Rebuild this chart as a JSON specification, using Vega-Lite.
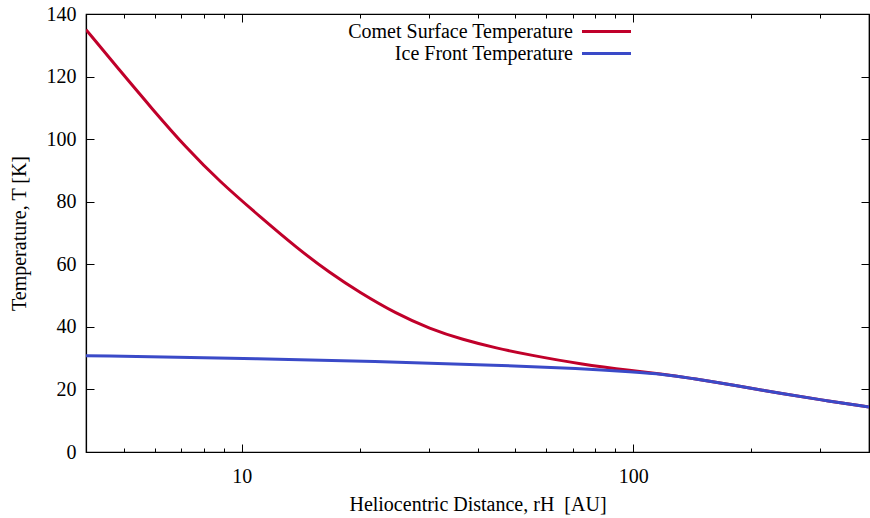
{
  "$schema": "https://vega.github.io/schema/vega-lite/v6.json",
  "width": 783,
  "height": 438,
  "autosize": {"type": "none"},
  "padding": {"left": 86, "top": 14, "right": 1, "bottom": 66},
  "background": "white",
  "config": {
    "font": "Liberation Serif",
    "view": {"stroke": "black", "strokeWidth": 1.2},
    "axis": {
      "grid": false,
      "domainColor": "black",
      "domainWidth": 1.2,
      "tickColor": "black",
      "tickWidth": 1,
      "labelFont": "Liberation Serif",
      "labelFontSize": 20,
      "labelColor": "black",
      "titleFont": "Liberation Serif",
      "titleFontSize": 20,
      "titleFontWeight": "normal",
      "titleColor": "black"
    }
  },
  "data": {
    "values": [
      {"series": "Comet Surface Temperature", "r": 4, "T": 135.0},
      {"series": "Comet Surface Temperature", "r": 4.86, "T": 122.2},
      {"series": "Comet Surface Temperature", "r": 5.91, "T": 109.6},
      {"series": "Comet Surface Temperature", "r": 7.19, "T": 97.4},
      {"series": "Comet Surface Temperature", "r": 8.75, "T": 86.6},
      {"series": "Comet Surface Temperature", "r": 11.3, "T": 74.5},
      {"series": "Comet Surface Temperature", "r": 13.8, "T": 65.3},
      {"series": "Comet Surface Temperature", "r": 16.8, "T": 57.2},
      {"series": "Comet Surface Temperature", "r": 20.0, "T": 51.0},
      {"series": "Comet Surface Temperature", "r": 24.8, "T": 44.2},
      {"series": "Comet Surface Temperature", "r": 30.2, "T": 39.4},
      {"series": "Comet Surface Temperature", "r": 36.7, "T": 35.9},
      {"series": "Comet Surface Temperature", "r": 44.7, "T": 33.2},
      {"series": "Comet Surface Temperature", "r": 54.4, "T": 31.0},
      {"series": "Comet Surface Temperature", "r": 73.1, "T": 28.1},
      {"series": "Comet Surface Temperature", "r": 100, "T": 25.9},
      {"series": "Comet Surface Temperature", "r": 119, "T": 24.9},
      {"series": "Comet Surface Temperature", "r": 140, "T": 23.6},
      {"series": "Comet Surface Temperature", "r": 160, "T": 22.4},
      {"series": "Comet Surface Temperature", "r": 200, "T": 20.4},
      {"series": "Comet Surface Temperature", "r": 237, "T": 18.8},
      {"series": "Comet Surface Temperature", "r": 300, "T": 16.7},
      {"series": "Comet Surface Temperature", "r": 400, "T": 14.4},
      {"series": "Ice Front Temperature", "r": 4, "T": 30.8},
      {"series": "Ice Front Temperature", "r": 9.31, "T": 30.0},
      {"series": "Ice Front Temperature", "r": 22.5, "T": 29.0},
      {"series": "Ice Front Temperature", "r": 45.6, "T": 27.7},
      {"series": "Ice Front Temperature", "r": 73.1, "T": 26.7},
      {"series": "Ice Front Temperature", "r": 100, "T": 25.6},
      {"series": "Ice Front Temperature", "r": 119, "T": 24.9},
      {"series": "Ice Front Temperature", "r": 140, "T": 23.6},
      {"series": "Ice Front Temperature", "r": 160, "T": 22.4},
      {"series": "Ice Front Temperature", "r": 200, "T": 20.4},
      {"series": "Ice Front Temperature", "r": 237, "T": 18.8},
      {"series": "Ice Front Temperature", "r": 300, "T": 16.7},
      {"series": "Ice Front Temperature", "r": 400, "T": 14.4}
    ]
  },
  "layer": [
    {
      "mark": {"type": "line", "strokeWidth": 3, "interpolate": "basis", "clip": true},
      "encoding": {
        "x": {
          "field": "r", "type": "quantitative",
          "scale": {"type": "log", "domain": [4, 400], "nice": false},
          "axis": {
            "orient": "bottom",
            "title": "Heliocentric Distance, rH\u00a0 [AU]",
            "titlePadding": 4,
            "values": [5, 6, 7, 8, 9, 10, 20, 30, 40, 50, 60, 70, 80, 90, 100, 200, 300],
            "labelExpr": "(datum.value == 10 || datum.value == 100) ? format(datum.value, 'd') : ''",
            "tickSize": {"condition": {"test": "datum.value == 10 || datum.value == 100", "value": -8}, "value": -4},
            "labelPadding": 22,
            "labelFlush": false,
            "labelOverlap": false
          }
        },
        "y": {
          "field": "T", "type": "quantitative",
          "scale": {"domain": [0, 140], "nice": false, "zero": true},
          "axis": {
            "orient": "left",
            "title": "Temperature, T [K]",
            "values": [0, 20, 40, 60, 80, 100, 120, 140],
            "tickSize": -8,
            "labelPadding": 18,
            "titlePadding": 17,
            "labelFlush": false
          }
        },
        "color": {
          "field": "series", "type": "nominal",
          "scale": {"domain": ["Comet Surface Temperature", "Ice Front Temperature"], "range": ["#c0002a", "#3a4ac8"]},
          "legend": {
            "orient": "none",
            "legendX": 509,
            "legendY": 6,
            "title": null,
            "symbolType": "M-2.5,0H2.5",
            "symbolSize": 384,
            "symbolStrokeWidth": 3,
            "labelAlign": "right",
            "labelOffset": -45,
            "labelFont": "Liberation Serif",
            "labelFontSize": 20,
            "labelColor": "black",
            "labelLimit": 0,
            "rowPadding": 0
          }
        }
      }
    },
    {
      "mark": {"type": "point", "opacity": 0},
      "encoding": {
        "x": {
          "field": "r", "type": "quantitative",
          "axis": {
            "orient": "top", "title": null, "labels": false,
            "values": [5, 6, 7, 8, 9, 10, 20, 30, 40, 50, 60, 70, 80, 90, 100, 200, 300],
            "tickSize": {"condition": {"test": "datum.value == 10 || datum.value == 100", "value": -8}, "value": -4}
          }
        },
        "y": {
          "field": "T", "type": "quantitative",
          "axis": {
            "orient": "right", "title": null, "labels": false,
            "values": [0, 20, 40, 60, 80, 100, 120, 140],
            "tickSize": -8
          }
        }
      }
    }
  ],
  "resolve": {"axis": {"x": "independent", "y": "independent"}}
}
